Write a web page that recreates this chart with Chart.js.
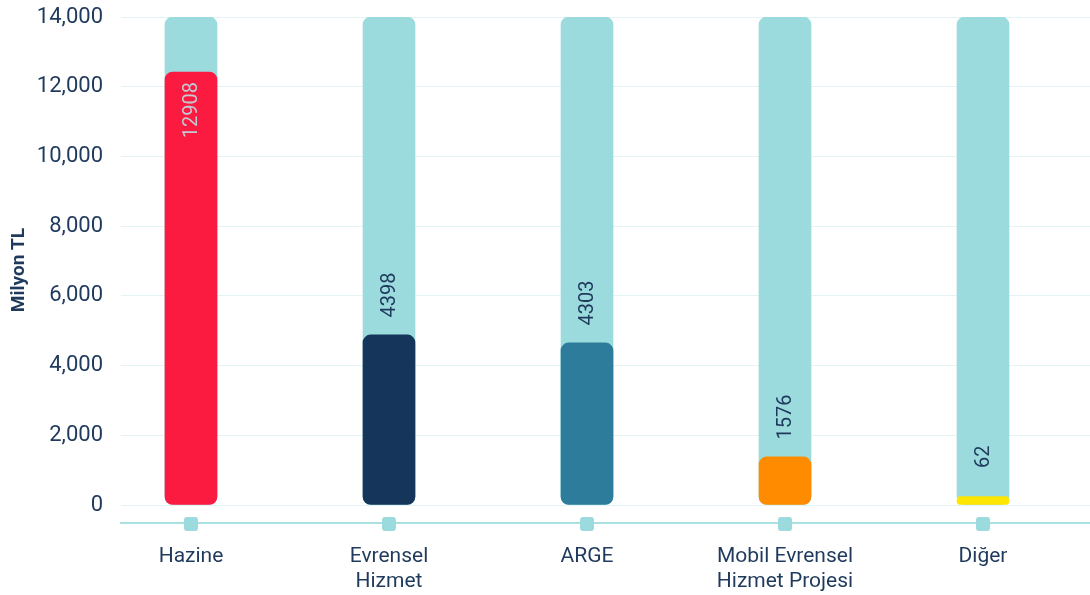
<!DOCTYPE html>
<html>
<head>
<meta charset="utf-8">
<script src="https://cdn.jsdelivr.net/npm/chart.js@4/dist/chart.umd.min.js"></script>
<style>
    html, body { margin: 0; padding: 0; background: #ffffff; }
    #wrap { width: 1090px; height: 595px; position: relative; }
</style>
</head>
<body>
<div id="wrap"><canvas id="fund-chart"></canvas></div>
<script>
// categories and values
const categories = ['Hazine', ['Evrensel', 'Hizmet'], 'ARGE', ['Mobil Evrensel', 'Hizmet Projesi'], 'Diğer'];
const barHeights = [12420, 4880, 4650, 1380, 240];
const valueLabels = ['12908', '4398', '4303', '1576', '62'];
const backgroundTotals = [14000, 14000, 14000, 14000, 14000];
const yTicks = [0, 2000, 4000, 6000, 8000, 10000, 12000, 14000];

const barColors = ['#fb1a40', '#15365a', '#2e7c9c', '#ff8c00', '#ffe600'];
const trackColor = '#9bdbdd';
const textColor = '#1f3a5c';

document.addEventListener('DOMContentLoaded', () => {
    const ctx = document.getElementById('fund-chart').getContext('2d');

    // value labels rotated, drawn above the bar (or inside when there is no room)
    const valueLabelPlugin = {
        id: 'valueLabels',
        afterDatasetsDraw(chart) {
            const meta = chart.getDatasetMeta(0);
            const c = chart.ctx;
            c.save();
            c.font = '400 20px Roboto';
            c.textAlign = 'center';
            c.textBaseline = 'middle';
            meta.data.forEach((bar, i) => {
                const text = valueLabels[i];
                const half = c.measureText(text).width / 2;
                let cy = bar.y - 40;
                let color = textColor;
                if (cy - half < chart.chartArea.top + 20) {
                    cy = bar.y + 38;
                    color = '#c4cad4';
                }
                c.save();
                c.fillStyle = color;
                c.translate(bar.x, cy);
                c.rotate(-Math.PI / 2);
                c.fillText(text, 0, 1);
                c.restore();
            });
            c.restore();
        }
    };

    // little rounded squares on the x axis line
    const tickMarkPlugin = {
        id: 'tickMarks',
        afterDraw(chart) {
            const xScale = chart.scales.x;
            const c = chart.ctx;
            const y = chart.chartArea.bottom + 1;
            c.save();
            c.fillStyle = trackColor;
            xScale.ticks.forEach((t, i) => {
                const x = xScale.getPixelForTick(i);
                c.beginPath();
                c.roundRect(x - 7, y - 7, 14, 14, 3);
                c.fill();
            });
            c.restore();
        }
    };

    new Chart(ctx, {
        type: 'bar',
        data: {
            datasets: [{
                data: barHeights.map((v, i) => ({ x: i, y: v })),
                backgroundColor: barColors,
                borderRadius: 8,
                borderSkipped: false,
                barThickness: 52,
                grouped: false,
                order: 1
            }, {
                data: backgroundTotals.map((v, i) => ({ x: i, y: v })),
                backgroundColor: trackColor,
                borderRadius: 8,
                borderSkipped: false,
                barThickness: 52,
                grouped: false,
                order: 2
            }]
        },
        options: {
            responsive: true,
            maintainAspectRatio: false,
            animation: false,
            layout: { padding: { top: 17, right: 0, bottom: 0, left: 0 } },
            plugins: {
                legend: { display: false },
                tooltip: { enabled: false }
            },
            scales: {
                x: {
                    type: 'linear',
                    offset: false,
                    min: -0.3535,
                    max: 4.5404,
                    afterFit: (scale) => { scale.height = 72; scale.paddingLeft = 0; scale.paddingRight = 0; },
                    grid: { display: false, offset: false },
                    border: { display: true, color: '#a9e0e1', width: 2 },
                    ticks: {
                        stepSize: 1,
                        includeBounds: false,
                        autoSkip: false,
                        maxRotation: 0,
                        padding: 13,
                        color: textColor,
                        font: { family: 'Roboto', size: 21, lineHeight: 1.2 },
                        callback: (value) => Number.isInteger(value) ? categories[value] : ''
                    }
                },
                y: {
                    min: -516,
                    max: 14000,
                    afterFit: (scale) => { scale.width = 121; scale.paddingTop = 0; scale.paddingBottom = 0; },
                    afterBuildTicks: (scale) => { scale.ticks = yTicks.map(v => ({ value: v })); },
                    grid: { color: '#e2f4f5', lineWidth: 1, drawTicks: false },
                    border: { display: false },
                    ticks: {
                        padding: 18,
                        color: textColor,
                        font: { family: 'Roboto', size: 22 },
                        callback: (value) => value.toLocaleString('en-US')
                    },
                    title: {
                        display: true,
                        text: 'Milyon TL',
                        color: textColor,
                        font: { family: 'Roboto', size: 19, weight: 'bold' },
                        padding: { top: 8, bottom: 0 }
                    }
                }
            }
        },
        plugins: [valueLabelPlugin, tickMarkPlugin]
    });
});
</script>
</body>
</html>
